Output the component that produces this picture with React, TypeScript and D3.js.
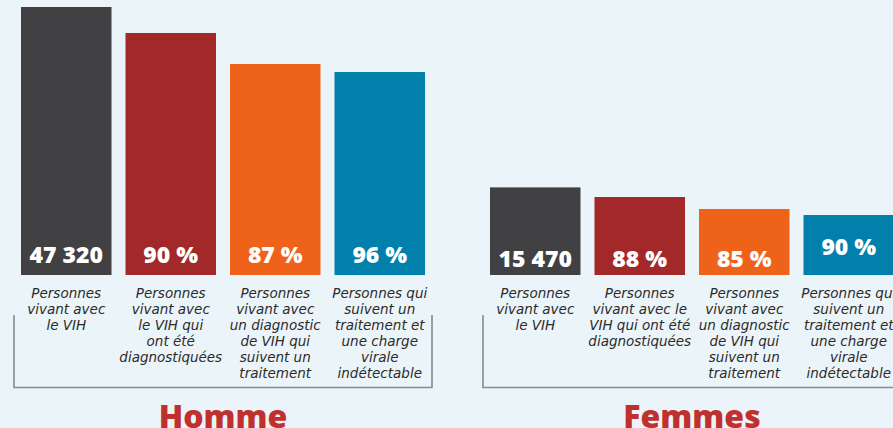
import React from "react";
import * as d3 from "d3";

const groups = ["Homme", "Femmes"];
const categories = ["plhiv", "diagnosed", "treated", "suppressed"];
const hommeValues = [47320, 42730, 37260, 35840];
const femmesValues = [15470, 13770, 11650, 10590];
const hommeLabels = ["47 320", "90 %", "87 %", "96 %"];
const femmesLabels = ["15 470", "88 %", "85 %", "90 %"];
const hommeCatLines = [
  ["Personnes", "vivant avec", "le VIH"],
  ["Personnes", "vivant avec", "le VIH qui", "ont été", "diagnostiquées"],
  ["Personnes", "vivant avec", "un diagnostic", "de VIH qui", "suivent un", "traitement"],
  ["Personnes qui", "suivent un", "traitement et", "une charge", "virale", "indétectable"],
];
const femmesCatLines = [
  ["Personnes", "vivant avec", "le VIH"],
  ["Personnes", "vivant avec le", "VIH qui ont été", "diagnostiquées"],
  ["Personnes", "vivant avec", "un diagnostic", "de VIH qui", "suivent un", "traitement"],
  ["Personnes qui", "suivent un", "traitement et", "une charge", "virale", "indétectable"],
];

const colors = ["#414143", "#a3282a", "#ef6219", "#0080aa"];
const W = 893;
const H = 428;

export default function App() {
  const baseY = 275;
  const y = d3.scaleLinear().domain([0, 47320]).range([baseY, 7]);
  const x0 = d3.scaleBand<string>().domain(groups).range([21, 21 + 2 * 469]);
  const x1 = d3
    .scaleBand<string>()
    .domain(categories)
    .range([0, 404])
    .paddingInner(0.134)
    .paddingOuter(0);
  const bw = x1.bandwidth();

  const data = [
    { g: "Homme", values: hommeValues, labels: hommeLabels, lines: hommeCatLines, labelY: [254, 254, 254, 254] },
    { g: "Femmes", values: femmesValues, labels: femmesLabels, lines: femmesCatLines, labelY: [258, 258, 258, 246] },
  ];

  return (
    <div style={{ position: "absolute", left: 0, top: 0, margin: 0 }}>
      <svg width={W} height={H} style={{ display: "block", background: "#ebf4f8" }}>
        {data.map((grp) => {
          const gx = x0(grp.g)!;
          const left = gx - 7;
          const right = gx + 404 + 7;
          return (
            <g key={grp.g}>
              {categories.map((c, i) => {
                const bx = gx + x1(c)!;
                const top = y(grp.values[i]);
                return (
                  <g key={c}>
                    <rect x={bx} y={top} width={bw} height={baseY - top} fill={colors[i]} />
                    <text
                      x={bx + bw / 2}
                      y={grp.labelY[i]}
                      dominantBaseline="central"
                      textAnchor="middle"
                      fill="#ffffff"
                      fontFamily="'Open Sans', sans-serif"
                      fontWeight={800}
                      fontSize={23}
                    >
                      {grp.labels[i]}
                    </text>
                    <text
                      x={bx + bw / 2}
                      textAnchor="middle"
                      fill="#2b2b2b"
                      fontFamily="'DejaVu Sans', sans-serif"
                      fontStyle="italic"
                      fontSize={13.5}
                    >
                      {grp.lines[i].map((ln, k) => (
                        <tspan key={k} x={bx + bw / 2} y={298 + k * 16}>
                          {ln}
                        </tspan>
                      ))}
                    </text>
                  </g>
                );
              })}
              <path
                d={`M${left},315 V387.5 H${right} V315`}
                fill="none"
                stroke="#858b90"
                strokeWidth={1.6}
              />
              <text
                x={gx + 404 / 2}
                y={428}
                textAnchor="middle"
                fill="#c0302e"
                fontFamily="'Open Sans', sans-serif"
                fontWeight={800}
                fontSize={32}
              >
                {grp.g}
              </text>
            </g>
          );
        })}
      </svg>
    </div>
  );
}
